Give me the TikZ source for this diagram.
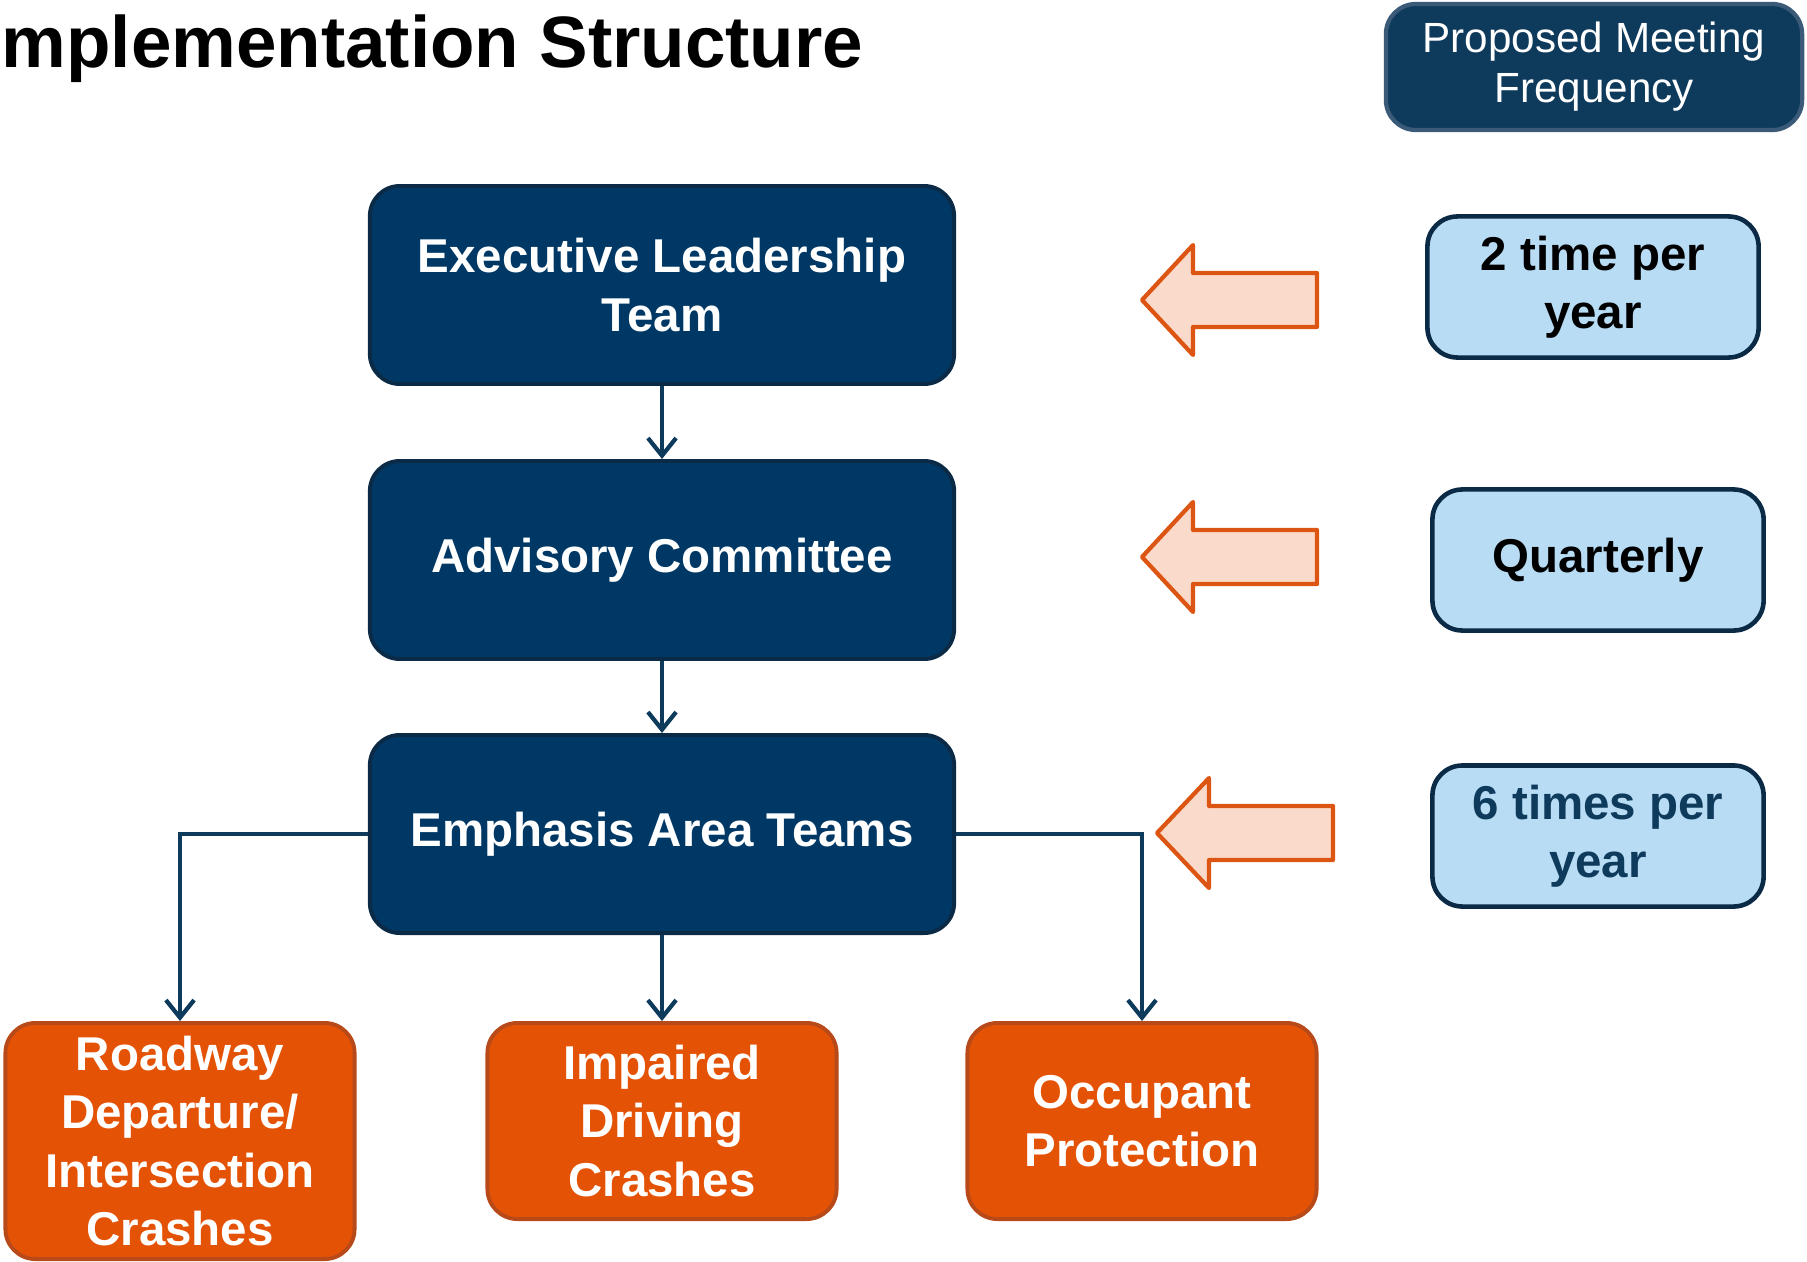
\documentclass[tikz,border=0pt]{standalone}
\usepackage{fontspec}
\setmainfont{Liberation Sans}
\usetikzlibrary{arrows.meta}

\definecolor{navyfill}{HTML}{003865}
\definecolor{navyline}{HTML}{0B2A45}
\definecolor{orangefill}{HTML}{E35205}
\definecolor{orangeline}{HTML}{B84A1A}
\definecolor{peachfill}{HTML}{FADBCB}
\definecolor{peachline}{HTML}{DD5512}
\definecolor{skyfill}{HTML}{B7DCF4}
\definecolor{linkcolor}{HTML}{0E3A5C}
\definecolor{headline}{HTML}{3A5A78}

\tikzset{
  bigfont/.style={font=\bfseries\fontsize{13.5}{16.6}\selectfont},
  navybox/.style={bigfont, draw=navyline, fill=navyfill, text=white, line width=1.1pt,
    rounded corners=3mm, minimum width=5.84cm, minimum height=1.98cm, align=center},
  orangebox/.style={bigfont, draw=orangeline, fill=orangefill, text=white, line width=1.1pt,
    rounded corners=3mm, minimum width=3.49cm, minimum height=1.96cm, align=center},
  freqbox/.style={bigfont, draw=navyline, fill=skyfill, line width=1.3pt,
    rounded corners=3mm, minimum width=3.31cm, minimum height=1.41cm, align=center},
  link/.style={draw=linkcolor, line width=1.2pt, -{Straight Barb[length=5pt,width=8pt]}}
}

% block arrow pointing left: tip x, tip y, head base x, tail x
\newcommand{\peacharrow}[4]{
\draw[fill=peachfill, draw=peachline, line width=1.2pt, line join=round]
(#1, #2) -- (#3, #2-55) -- (#3, #2-27) -- (#4, #2-27)
-- (#4, #2+27) -- (#3, #2+27) -- (#3, #2+55) -- cycle;
}

\begin{document}
\begin{tikzpicture}[x=0.01cm, y=-0.01cm]
\useasboundingbox (0,0) rectangle (1807,1261);

\node[anchor=base west, inner sep=0, font=\bfseries\fontsize{20.7}{25}\selectfont] (title) at (1,68) {mplementation Structure};

\node[draw=headline, fill=linkcolor, text=white, line width=1.2pt, rounded corners=3mm,
  minimum width=4.16cm, minimum height=1.26cm, align=center,
  font=\fontsize{12}{14.2}\selectfont] (head) at (1594,67) {Proposed Meeting\\Frequency};

\node[navybox] (elt) at (662,285) {Executive Leadership\\Team};
\node[navybox] (adv) at (662,560) {Advisory Committee};
\node[navybox] (eat) at (662,834) {Emphasis Area Teams};

\node[orangebox, minimum height=2.36cm] (rdi) at (180,1141) {Roadway\\Departure/\\Intersection\\Crashes};
\node[orangebox] (imp) at (662,1121) {Impaired\\Driving\\Crashes};
\node[orangebox] (occ) at (1142,1121) {Occupant\\Protection};

\node[freqbox] (twice) at (1593,287) {2 time per\\year};
\node[freqbox] (quart) at (1598,560) {Quarterly};
\node[freqbox, text=linkcolor] (six) at (1598,836) {6 times per\\year};

\draw[link] (elt) -- (adv);
\draw[link] (adv) -- (eat);
\draw[link] (eat) -- (imp);
\draw[link] (eat.west) -| (rdi.north);
\draw[link] (eat.east) -| (occ.north);

\peacharrow{1142}{300}{1193}{1317}
\peacharrow{1142}{557}{1193}{1317}
\peacharrow{1157}{833}{1209}{1333}

\end{tikzpicture}
\end{document}
